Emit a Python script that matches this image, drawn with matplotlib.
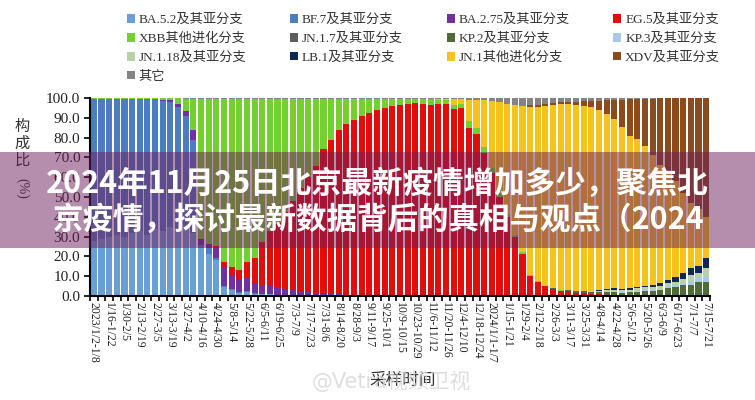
import numpy as np
import matplotlib
matplotlib.use("Agg")
import matplotlib.pyplot as plt
from matplotlib.patches import Patch, Rectangle
from matplotlib.font_manager import FontProperties

# ---------------- data ----------------
tick_labels = ["2023/1/2-1/8", "1/16-1/22", "1/30-2/5", "2/13-2/19", "2/27-3/5", "3/13-3/19",
               "3/27-4/2", "4/10-4/16", "4/24-4/30", "5/8-5/14", "5/22-5/28", "6/5-6/11",
               "6/19-6/25", "7/3-7/9", "7/17-7/23", "7/31-8/6", "8/14-8/20", "8/28-9/3",
               "9/11-9/17", "9/25-10/1", "10/9-10/15", "10/23-10/29", "11/6-11/12",
               "11/20-11/26", "12/4-12/10", "12/18-12/24", "2024/1/1-1/7", "1/15-1/21",
               "1/29-2/4", "2/12-2/18", "2/26-3/3", "3/11-3/17", "3/25-3/31", "4/8-4/14",
               "4/22-4/28", "5/6-5/12", "5/20-5/26", "6/3-6/9", "6/17-6/23", "7/1-7/7",
               "7/15-7/21"]
n_weeks = 81

ba52 = [28, 29, 30, 31, 30, 32, 33, 31, 34, 33, 35, 34, 36, 32,
        24, 21, 18, 4.5, 3, 1.5, 2, 1.2,
        1, 0.8, 0.6, 0.5, 0.4, 0.3, 0.2, 0.1] + [0] * 51
bf7 = [71.5, 70.5, 69.5, 68.5, 69.5, 67.5, 66.5, 68.5, 65.3, 65.5, 63, 61.5, 55, 47,
       2, 3, 1, 0.5, 0.5, 0.5, 0.5, 0.3] + [0] * 59
ba275 = [0, 0, 0, 0, 0, 0, 0, 0, 0.2, 0.5, 0.8, 1.5, 2.2, 5,
         3, 2.5, 6, 9.5, 7, 6, 6.5, 4.9,
         4.5, 4, 3.5, 3, 2.5, 2, 1.8, 1.5,
         1.2, 1, 0.8, 0.6, 0.5, 0.4, 0.3, 0.3, 0.2, 0.2, 0.1, 0.1, 0] + [0] * 38
eg5 = [0] * 16 + [0.5, 2.5, 4.3, 5, 8.3, 12.6,
                  22, 28, 33, 39, 45, 52, 58, 64,
                  73, 78, 83, 86.5, 88.5, 90.5, 92, 93.5, 94.8, 95.8, 96.5, 97, 97.5,
                  97, 96.5, 97, 97, 94.5, 95,
                  85, 82, 72, 62, 50, 40, 30, 21,
                  10, 7.2, 5, 3.5, 2.7, 2.3, 1.7, 1.3, 1.0,
                  0.8, 0.6, 0.5, 0.4, 0.3, 0.3, 0.2, 0.2, 0.2, 0.1, 0.1, 0.1, 0.1, 0, 0]
xbb = [0.3] * 9 + [0.8, 1.0, 2.8, 6.5, 15.7,
                   70.7, 73.2, 74.2, 82.7, 84.9, 86.7, 82.4, 80.7,
                   72.2, 66.9, 62.6, 57.2, 51.8, 45.4, 39.7, 34.1,
                   25.5, 20.7, 15.9, 12.6, 10.7, 8.8, 7.4, 5.9, 4.7, 3.7, 3.1, 2.6, 2.2,
                   2.5, 2.8, 2.2, 2, 2, 1.8,
                   3.5, 3, 3.5, 2.5, 2, 1.5, 1, 1,
                   0.5, 0.4, 0.3, 0.2, 0.2, 0.1] + [0] * 18
jn17 = [0] * 60 + [0.2, 0.3, 0.4, 0.4, 0.5, 0.4, 0.3, 0.2, 0.2, 0.1, 0.1, 0.1, 0.1, 0.1] + [0] * 7
kp2 = [0] * 62 + [0.2, 0.3, 0.5, 0.7, 0.8, 1.0, 1.2, 1.2, 1.4, 1.8, 2.0, 2.0, 2.8, 3.8,
                  4.6, 5.5, 5.5, 7.2, 7.2]
kp3 = [0] * 66 + [0.2, 0.3, 0.3, 0.3, 0.3, 0.5, 0.6, 0.6, 0.6, 0.9, 1.0, 1.2, 1.8, 1.8, 3.0]
jn118 = [0] * 63 + [0.2, 0.3, 0.4, 0.5, 0.9, 1.0, 0.8, 0.9, 1.2, 1.4, 1.4, 1.2, 1.6, 1.5,
                    2.0, 3.2, 2.4, 3.8]
lb1 = [0] * 65 + [0.2, 0.4, 0.7, 1.0, 0.5, 0.8, 0.8, 1.0, 1.1, 1.8, 1.7, 2.6, 2.6, 3.4, 3.9, 5.0]
jn1 = [0] * 45 + [0.3, 0.5, 3, 2.7, 10.5, 14, 23.5, 34, 46, 55.5, 65.5, 74,
                  85, 87.9, 90.7, 92.6, 93.8, 94.0, 93.9, 93.4, 92.8,
                  91.0, 88.3, 85.4, 82, 77.2, 74.8, 70.7, 65.6, 59.4, 53.9, 48.2, 40.6,
                  33, 28.7, 21]
xdv = [0] * 57 + [1, 1, 1, 1, 1, 1, 1.5, 2.5, 3,
                  4.5, 6.8, 9.4, 13.9, 18.5, 20, 23.7, 28.7, 33.8, 37.8, 42, 48, 53, 56, 60]
other = [0.2] * 12 + [0.3] * 31 + [0.5, 0.7, 0.5, 0.5, 0.5, 0.5,
                                   1, 1, 1, 1.5, 2, 3, 3.5, 4, 3.5, 3.5, 3, 2.5, 2, 2, 2,
                                   1.5, 1.5, 1.5, 1.2, 1, 0.8, 0.5, 0.5, 0.3, 0.3, 0.2, 0.2,
                                   0, 0, 0, 0, 0]

series_names = ["BA.5.2及其亚分支", "BF.7及其亚分支", "BA.2.75及其亚分支", "EG.5及其亚分支",
                "XBB其他进化分支", "JN.1.7及其亚分支", "KP.2及其亚分支", "KP.3及其亚分支",
                "JN.1.18及其亚分支", "LB.1及其亚分支", "JN.1其他进化分支", "XDV及其亚分支", "其它"]
series_vals = [ba52, bf7, ba275, eg5, xbb, jn17, kp2, kp3, jn118, lb1, jn1, xdv, other]
series_colors = ["#6A9FD3", "#4C7DC2", "#7030A0", "#E20D0D", "#74D02F", "#5E5E5E",
                 "#4F6B36", "#A9C9E8", "#B7D2A6", "#0E2852", "#F6C31C", "#8C4B1D", "#848484"]

# ---------------- figure ----------------
fig = plt.figure(figsize=(7.55, 4.0), dpi=100)
ax = fig.add_axes([90 / 755, 1 - 296 / 400, 620 / 755, 198 / 400])

serif = ["Liberation Serif", "Noto Sans CJK SC"]
x = np.arange(n_weeks)
bottom = np.zeros(n_weeks)
handles = []
for name, vals, col in zip(series_names, series_vals, series_colors):
    v = np.array(vals, dtype=float)
    ax.bar(x, v, bottom=bottom, width=0.8, color=col, linewidth=0, zorder=2)
    bottom += v
    handles.append(Patch(facecolor=col, edgecolor="none", label=name))

ax.set_xlim(-0.5, n_weeks - 0.5)
ax.set_ylim(0, 100)
ax.set_yticks(np.arange(0, 101, 10))
ax.set_yticklabels([f"{t:.1f}" for t in np.arange(0, 101, 10)],
                   fontfamily=serif, fontsize=11, color="#222222")
ax.set_xticks(np.arange(0, n_weeks, 2))
ax.set_xticklabels(tick_labels, rotation=270, fontfamily=serif, fontsize=8.5,
                   color="#222222", va="top", ha="center")
ax.set_xticks(np.arange(n_weeks + 1) - 0.5, minor=True)
ax.tick_params(axis="x", which="major", length=0, pad=4)
ax.tick_params(axis="x", which="minor", length=3.5, width=1.2, color="black")
ax.tick_params(axis="y", length=4, width=1.2, color="black", pad=3)
for s in ["top", "right"]:
    ax.spines[s].set_visible(False)
for s in ["left", "bottom"]:
    ax.spines[s].set_linewidth(1.5)
    ax.spines[s].set_color("black")

# y label: stacked characters
for i, ch in enumerate("构成比"):
    fig.text(22 / 755, 1 - (126 + i * 17) / 400, ch, fontsize=11,
             family=["Noto Sans CJK SC"], ha="center", va="center", color="#333333")
fig.text(22 / 755, 1 - 188 / 400, "(%)", fontsize=10, family=serif,
         rotation=270, ha="center", va="center", color="#333333")

# x label and watermark
fig.text(403 / 755, 1 - 381 / 400, "采样时间", fontsize=12, family=["Noto Sans CJK SC"],
         ha="center", va="center", color="#333333")
fig.text(312 / 755, 1 - 381 / 400, "@Vetra视频卫视", fontsize=15,
         family=["DejaVu Sans", "Noto Sans CJK SC"], ha="left", va="center",
         color="#d4d4d4", alpha=0.75)

# legend (row-major order reproduced through column filling)
order = [0, 4, 8, 12, 1, 5, 9, 2, 6, 10, 3, 7, 11]
leg = fig.legend([handles[i] for i in order], [series_names[i] for i in order],
                 ncol=4, loc="upper left", bbox_to_anchor=(127 / 755, 1 - 14 / 400),
                 frameon=False, prop=FontProperties(family=serif, size=9.5),
                 handlelength=0.6, handleheight=0.6, handletextpad=0.3,
                 columnspacing=3.3, labelspacing=0.5, borderpad=0, borderaxespad=0)
for t in leg.get_texts():
    t.set_color("#333333")

# overlay banner with title text
fig.patches.append(Rectangle((0, 1 - 248 / 400), 1, 96 / 400, transform=fig.transFigure,
                             facecolor="#6B1E5A", alpha=0.5, edgecolor="none", zorder=5))
fig.text(0.5, 1 - 184 / 400, "2024年11月25日北京最新疫情增加多少，聚焦北",
         fontsize=22, fontweight="bold", family=["Noto Sans CJK SC"], color="white",
         ha="center", va="center", zorder=6)
fig.text(0.502, 1 - 220 / 400, "京疫情，探讨最新数据背后的真相与观点（2024",
         fontsize=22, fontweight="bold", family=["Noto Sans CJK SC"], color="white",
         ha="center", va="center", zorder=6)

fig.savefig("out.png", dpi=100)
